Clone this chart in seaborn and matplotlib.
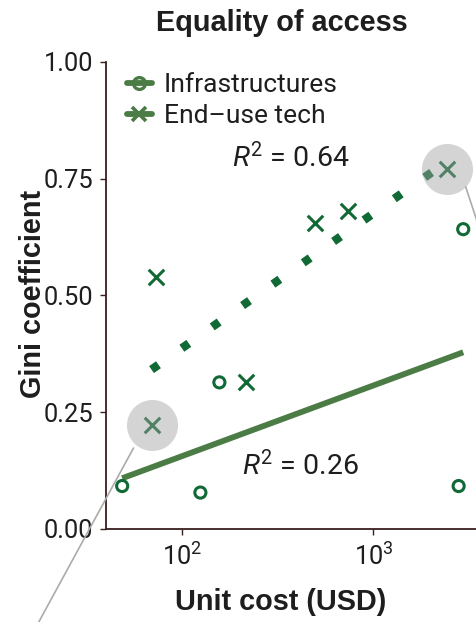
import numpy as np
import pandas as pd
import matplotlib
matplotlib.use("Agg")
import matplotlib.pyplot as plt
import seaborn as sns
from matplotlib.lines import Line2D
from matplotlib.transforms import offset_copy
from matplotlib.ticker import FixedLocator, NullLocator, LogFormatterSciNotation

# --- data -------------------------------------------------------------
infra_cost = [48.6, 124.6, 2790, 156.6, 2948]
infra_gini = [0.092, 0.078, 0.092, 0.314, 0.642]

enduse_cost = [73.1, 215.8, 495, 739, 2415, 69.2]
enduse_gini = [0.540, 0.315, 0.656, 0.682, 0.770, 0.222]
enduse_callout = [False, False, False, False, True, True]

series_labels = ["Infrastructures", "End\u2013use tech"]
y_ticks = [0.0, 0.25, 0.50, 0.75, 1.00]
x_ticks = [1e2, 1e3]

# --- style ------------------------------------------------------------
DARK = "#116a35"
MUTED = "#4b7c46"
AXIS = "#3a1f1f"
TEXT = "#1e1e1e"

sns.set_theme(style="white")
plt.rcParams["font.family"] = ["Roboto", "DejaVu Sans"]
plt.rcParams["font.weight"] = "normal"
plt.rcParams["mathtext.fontset"] = "custom"
plt.rcParams["mathtext.rm"] = "Roboto"
plt.rcParams["mathtext.it"] = "Roboto:italic"
plt.rcParams["mathtext.default"] = "regular"

infra = pd.DataFrame({"cost": infra_cost, "gini": infra_gini})
enduse = pd.DataFrame({"cost": enduse_cost, "gini": enduse_gini,
                       "callout": enduse_callout})

fig = plt.figure(figsize=(4.77, 6.22), dpi=100)
ax = fig.add_axes([106 / 477, 93 / 622, 371 / 477, 467 / 622])
ax.set_xscale("log")

# regression lines (gini ~ log cost)
sns.regplot(data=infra, x="cost", y="gini", logx=True, ci=None, scatter=False,
            color=MUTED, line_kws=dict(lw=4.2, solid_capstyle="butt", zorder=2), ax=ax)
sns.regplot(data=enduse, x="cost", y="gini", logx=True, ci=None, scatter=False,
            color=DARK, line_kws=dict(lw=6.1, ls=(0, (1, 3.38)), dash_capstyle="butt",
                                      zorder=2), ax=ax)

# points
sns.scatterplot(data=infra, x="cost", y="gini", marker="o", s=64, color=DARK,
                facecolor="none", edgecolor=DARK, linewidth=2.2, zorder=3, ax=ax)
sns.scatterplot(data=enduse, x="cost", y="gini", marker="x", s=125, color=DARK,
                linewidth=2.2, zorder=3, ax=ax)

# highlighted points with callout lines
hl = enduse[enduse["callout"]]
sns.scatterplot(data=hl, x="cost", y="gini", s=1350, color="#a0a0a0", alpha=0.45,
                linewidth=0, zorder=6, ax=ax, legend=False)
callout_offsets = [((19, -17.4), (52, -117)), ((-18, -22.7), (-132, -232))]
for (cx, cy), (start, end) in zip(hl[["cost", "gini"]].values, callout_offsets):
    ax.annotate("", xy=(cx, cy),
                xycoords=offset_copy(ax.transData, fig=fig, x=start[0], y=start[1], units="dots"),
                xytext=(cx, cy),
                textcoords=offset_copy(ax.transData, fig=fig, x=end[0], y=end[1], units="dots"),
                arrowprops=dict(arrowstyle="-", color="#ababab", lw=1.2,
                                shrinkA=0, shrinkB=0),
                annotation_clip=False, zorder=7)

# R^2 labels
r2_infra = np.corrcoef(np.log10(infra_cost), infra_gini)[0, 1] ** 2
r2_enduse = np.corrcoef(np.log10(enduse_cost), enduse_gini)[0, 1] ** 2
ax.text(0.34, 0.776, f"$\\mathit{{R}}^2$ = {r2_enduse:.2f}", transform=ax.transAxes,
        fontsize=20.5, color=TEXT, va="baseline", ha="left")
ax.text(0.3655, 0.1156, f"$\\mathit{{R}}^2$ = {r2_infra:.2f}", transform=ax.transAxes,
        fontsize=20.5, color=TEXT, va="baseline", ha="left")

# axes
ax.set_xlim(40, 3480)
ax.set_ylim(0, 1)
ax.xaxis.set_major_locator(FixedLocator(x_ticks))
ax.xaxis.set_major_formatter(LogFormatterSciNotation())
ax.xaxis.set_minor_locator(NullLocator())
ax.yaxis.set_major_locator(FixedLocator(y_ticks))
ax.set_yticklabels([f"{v:.2f}" for v in y_ticks])
for side in ("top", "right"):
    ax.spines[side].set_visible(False)
for side in ("left", "bottom"):
    ax.spines[side].set_color(AXIS)
    ax.spines[side].set_linewidth(1.3)
ax.tick_params(axis="both", which="major", direction="out", length=4.3, width=1,
               color=AXIS, labelsize=18.4, labelcolor=TEXT, left=True, bottom=True)
ax.tick_params(axis="y", pad=4.8)
ax.tick_params(axis="x", pad=6)

bold = dict(family=["Liberation Sans", "DejaVu Sans"], weight="bold", size=20.8, color=TEXT)
ax.set_title("Equality of access", x=0.474, pad=22.5, **bold)
ax.set_xlabel("Unit cost (USD)", **bold)
ax.set_ylabel("Gini coefficient", **bold)
ax.xaxis.set_label_coords(0.470, -0.1745)
ax.xaxis.label.set_va("baseline")
ax.yaxis.set_label_coords(-0.1765, 0.503)
ax.yaxis.label.set_va("baseline")

handles = [
    Line2D([], [], color=MUTED, lw=4.2, marker="o", ms=8.5, mfc="none", mec=MUTED, mew=2.4),
    Line2D([], [], color=MUTED, lw=4.2, marker="x", ms=10, mec=MUTED, mew=2.6),
]
ax.legend(handles, series_labels, loc="upper left", bbox_to_anchor=(0.056, 0.976),
          frameon=False, fontsize=19, handlelength=0.95, handletextpad=0.45,
          labelspacing=0.25, borderpad=0, borderaxespad=0, labelcolor=TEXT)

fig.savefig("out.png", dpi=100)
